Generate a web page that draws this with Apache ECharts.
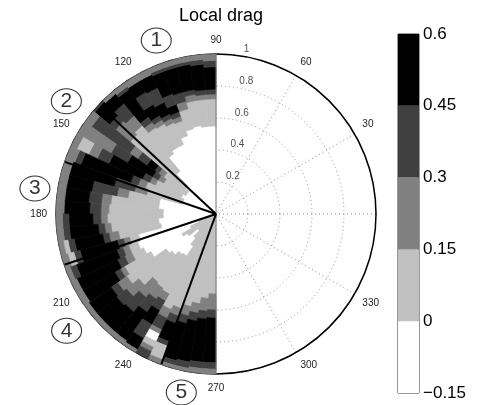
<!DOCTYPE html>
<html>
<head>
<meta charset="utf-8">
<script src="https://cdn.jsdelivr.net/npm/echarts@6/dist/echarts.min.js"></script>
<style>
html, body { margin: 0; padding: 0; background: #fff; }
#chart { width: 481px; height: 405px; }
</style>
</head>
<body>
<div id="chart"></div>
<script>
// angle bins on the left half (start of each 5 degree bin)
var angleBins = [90, 95, 100, 105, 110, 115, 120, 125, 130, 135, 140, 145,
    150, 155, 160, 165, 170, 175, 180, 185, 190, 195, 200, 205,
    210, 215, 220, 225, 230, 235, 240, 245, 250, 255, 260, 265];
var binWidth = 5;

// drag along each ray: [value, outer radius of the band], from the centre out
var dragBands = [
    [[-0.08, .55], [0.08, .72], [0.22, .75], [0.38, .78], [0.52, .92], [0.38, .96], [0.22, 1]],
    [[-0.08, .55], [0.08, .72], [0.22, .75], [0.38, .78], [0.52, .94], [0.38, .97], [0.22, 1]],
    [[-0.08, .56], [0.08, .72], [0.22, .76], [0.38, .79], [0.52, .95], [0.38, .97], [0.22, 1]],
    [[-0.08, .55], [0.08, .68], [0.22, .73], [0.38, .79], [0.52, .95], [0.38, .97], [0.22, 1]],
    [[-0.08, .52], [0.08, .62], [0.22, .65], [0.38, .68], [0.52, .73], [0.38, .80], [0.52, .95], [0.38, .97], [0.22, 1]],
    [[-0.08, .48], [0.08, .63], [0.22, .66], [0.38, .69], [0.52, .77], [0.38, .87], [0.52, .96], [0.22, 1]],
    [[-0.08, .48], [0.08, .65], [0.22, .68], [0.38, .71], [0.52, .79], [0.38, .88], [0.52, .96], [0.22, 1]],
    [[-0.08, .46], [0.08, .66], [0.22, .70], [0.38, .74], [0.52, .95], [0.38, .97], [0.22, 1]],
    [[-0.08, .35], [0.08, .72], [0.22, .80], [0.38, .90], [0.52, .98], [0.22, 1]],
    [[-0.08, .25], [0.08, .70], [0.22, .82], [0.38, .87], [0.52, .99], [0.38, 1]],
    [[-0.08, .22], [0.08, .40], [0.22, .44], [0.38, .47], [0.52, .53], [0.38, .60], [0.22, .66], [0.38, .95], [0.22, 1]],
    [[-0.08, .22], [0.08, .38], [0.22, .42], [0.38, .46], [0.52, .64], [0.38, .76], [0.22, 1]],
    [[-0.08, .24], [0.08, .42], [0.22, .46], [0.38, .51], [0.52, .74], [0.38, .82], [0.22, .88], [0.08, .96], [0.22, 1]],
    [[-0.08, .22], [0.08, .47], [0.22, .52], [0.38, .57], [0.52, .90], [0.38, .94], [0.22, 1]],
    [[-0.08, .22], [0.08, .45], [0.22, .53], [0.38, .66], [0.52, .95], [0.22, 1]],
    [[-0.08, .36], [0.08, .56], [0.22, .63], [0.38, .79], [0.52, .95], [0.22, 1]],
    [[-0.08, .36], [0.08, .66], [0.22, .72], [0.38, .80], [0.52, .95], [0.22, 1]],
    [[-0.08, .33], [0.08, .67], [0.22, .72], [0.38, .79], [0.52, .95], [0.22, 1]],
    [[-0.08, .33], [0.08, .68], [0.22, .72], [0.38, .77], [0.52, .92], [0.38, .96], [0.22, 1]],
    [[-0.08, .36], [0.08, .66], [0.22, .70], [0.38, .74], [0.52, .92], [0.38, .96], [0.22, 1]],
    [[-0.08, .35], [0.08, .62], [0.22, .68], [0.38, .72], [0.52, .90], [0.38, .94], [0.08, .97], [0.22, 1]],
    [[-0.08, .50], [0.08, .56], [0.22, .60], [0.38, .64], [0.52, .88], [0.38, .92], [0.08, .96], [0.22, 1]],
    [[0.08, .12], [-0.08, .52], [0.08, .58], [0.22, .62], [0.38, .66], [0.52, .93], [0.38, .97], [0.22, 1]],
    [[0.08, .18], [-0.08, .50], [0.08, .58], [0.22, .63], [0.38, .68], [0.52, .96], [0.22, 1]],
    [[0.08, .25], [-0.08, .47], [0.08, .66], [0.22, .69], [0.38, .73], [0.52, .96], [0.22, 1]],
    [[0.08, .22], [-0.08, .38], [0.08, .68], [0.22, .75], [0.38, .80], [0.52, .97], [0.22, 1]],
    [[0.08, .15], [-0.08, .36], [0.08, .63], [0.22, .73], [0.38, .81], [0.52, .97], [0.22, 1]],
    [[0.08, .20], [-0.08, .33], [0.08, .56], [0.22, .68], [0.38, .80], [0.52, .97], [0.22, 1]],
    [[0.08, .25], [-0.08, .32], [0.08, .57], [0.22, .65], [0.38, .75], [0.52, .97], [0.22, 1]],
    [[0.08, .58], [0.22, .63], [0.38, .70], [0.52, .80], [0.38, .90], [0.52, .98], [0.22, 1]],
    [[0.08, .66], [0.22, .72], [0.38, .80], [0.22, .83], [-0.08, .88], [0.08, .92], [0.22, .95], [0.38, 1]],
    [[0.08, .63], [0.22, .68], [0.38, .73], [0.52, .85], [0.38, .88], [0.08, .97], [0.22, 1]],
    [[0.08, .60], [0.22, .66], [0.38, .71], [0.52, .95], [0.38, .98], [0.22, 1]],
    [[0.08, .57], [0.22, .63], [0.38, .68], [0.52, .94], [0.38, .98], [0.22, 1]],
    [[0.08, .53], [0.22, .61], [0.38, .66], [0.52, .93], [0.38, .97], [0.22, 1]],
    [[0.08, .50], [0.22, .60], [0.38, .65], [0.52, .93], [0.38, .97], [0.22, 1]]
];

// contour levels and their grey shades
var levelEdges = [-0.15, 0, 0.15, 0.3, 0.45, 0.6];
var levelColors = ['#ffffff', '#c0c0c0', '#808080', '#404040', '#000000'];

// ring labels
var ringValues = [0.2, 0.4, 0.6, 0.8, 1];

// sector boundary lines: angle and length
var lineAngles = [137, 161, 198.5, 250];
var lineLengths = [0.955, 1, 1, 1];

// circled zone numbers
var zoneNames = ['1', '2', '3', '4', '5'];
var zoneRadius = [1.147, 1.171, 1.143, 1.185, 1.136];
var zoneAngle = [109, 143, 172, 218, 259];

var chart = echarts.init(document.getElementById('chart'));

// build sector cells
var cellData = [];
angleBins.forEach(function (a0, i) {
    var r0 = 0;
    dragBands[i].forEach(function (band) {
        cellData.push([a0, a0 + binWidth, r0, band[1], band[0]]);
        r0 = band[1];
    });
});

var pieces = [];
for (var k = 0; k < levelColors.length; k++) {
    pieces.push({ gte: levelEdges[k], lt: levelEdges[k + 1], color: levelColors[k] });
}

var series = [];

// contour fill
series.push({
    type: 'custom',
    coordinateSystem: 'polar',
    polarIndex: 0,
    data: cellData,
    encode: { angle: [0, 1], radius: [2, 3] },
    silent: true,
    z: 2,
    renderItem: function (params, api) {
        var a0 = api.value(0), a1 = api.value(1);
        var c = api.coord([0, a0]);
        var pIn = api.coord([api.value(2), a0]);
        var pOut = api.coord([api.value(3), a0]);
        var rIn = Math.sqrt(Math.pow(pIn[0] - c[0], 2) + Math.pow(pIn[1] - c[1], 2));
        var rOut = Math.sqrt(Math.pow(pOut[0] - c[0], 2) + Math.pow(pOut[1] - c[1], 2));
        var color = api.visual('color');
        return {
            type: 'sector',
            shape: {
                cx: c[0], cy: c[1], r0: rIn, r: rOut,
                startAngle: -a1 * Math.PI / 180,
                endAngle: -a0 * Math.PI / 180,
                clockwise: true
            },
            style: { fill: color, stroke: color, lineWidth: 0.7 }
        };
    }
});

// vertical edge of the filled half
series.push({
    type: 'line',
    coordinateSystem: 'polar',
    data: [[1, 90], [0, 90], [1, 270]],
    symbol: 'none',
    silent: true,
    lineStyle: { color: '#777', width: 1 },
    z: 3
});

// sector lines
lineAngles.forEach(function (a, i) {
    series.push({
        type: 'line',
        coordinateSystem: 'polar',
        data: [[0, a], [lineLengths[i], a]],
        symbol: 'none',
        silent: true,
        lineStyle: { color: '#000', width: 2 },
        z: 4
    });
});

// ring labels
series.push({
    type: 'scatter',
    coordinateSystem: 'polar',
    data: ringValues.map(function (v) { return [v, 82]; }),
    symbolSize: 1,
    clip: false,
    itemStyle: { color: 'rgba(0,0,0,0)' },
    silent: true,
    label: {
        show: true,
        position: 'right',
        distance: 5,
        offset: [0, -6],
        fontSize: 10,
        color: '#222',
        formatter: function (p) { return p.value[0]; }
    },
    z: 5
});

// circled zone numbers
series.push({
    type: 'scatter',
    coordinateSystem: 'polar',
    data: zoneNames.map(function (n, i) { return [zoneRadius[i], zoneAngle[i], n]; }),
    symbol: 'path://M0,50A60,50 0 1,1 120,50A60,50 0 1,1 0,50Z',
    symbolSize: [30, 25],
    clip: false,
    itemStyle: { color: 'rgba(0,0,0,0)', borderColor: '#000', borderWidth: 1 },
    silent: true,
    label: {
        show: true,
        position: 'inside',
        fontSize: 21,
        color: '#000',
        formatter: function (p) { return p.value[2]; }
    },
    z: 5
});

// colour bar
var barValues = [];
for (var j = 0; j < levelColors.length; j++) {
    barValues.push(j === 0 ? levelEdges[0] : levelEdges[j + 1] - levelEdges[j]);
}
barValues.forEach(function (v, j) {
    series.push({
        type: 'bar',
        xAxisIndex: 0,
        yAxisIndex: 0,
        stack: 'bar',
        data: [v],
        barWidth: '100%',
        silent: true,
        itemStyle: { color: levelColors[j] },
        z: 2
    });
});

var option = {
    animation: false,
    textStyle: { fontFamily: 'Liberation Sans, Arial, sans-serif' },
    title: {
        text: 'Local drag',
        left: 216,
        top: 2,
        textAlign: 'center',
        textStyle: { fontSize: 18, fontWeight: 'normal', color: '#000' }
    },
    polar: { center: [216, 214], radius: 160 },
    angleAxis: {
        type: 'value',
        min: 0,
        max: 360,
        interval: 30,
        startAngle: 0,
        clockwise: false,
        axisLine: { show: true, lineStyle: { color: '#000', width: 1.5 } },
        axisTick: { show: false },
        axisLabel: {
            margin: 9,
            fontSize: 10,
            color: '#222',
            formatter: function (v) { return v === 0 ? '' : v; }
        },
        splitLine: { show: true, lineStyle: { color: '#8a8a8a', width: 1, type: [1, 3] } }
    },
    radiusAxis: {
        type: 'value',
        min: 0,
        max: 1,
        interval: 0.2,
        axisLine: { show: false },
        axisTick: { show: false },
        axisLabel: { show: false },
        splitLine: { show: true, lineStyle: { color: '#8a8a8a', width: 1, type: [1, 3] } }
    },
    visualMap: {
        type: 'piecewise',
        show: false,
        seriesIndex: 0,
        dimension: 4,
        pieces: pieces
    },
    grid: {
        left: 398,
        top: 34,
        width: 21,
        height: 359,
        show: true,
        borderColor: '#333',
        borderWidth: 1
    },
    xAxis: {
        type: 'category',
        data: ['c'],
        show: false
    },
    yAxis: {
        type: 'value',
        position: 'right',
        min: levelEdges[0],
        max: levelEdges[levelEdges.length - 1],
        interval: 0.15,
        axisLine: { show: false },
        axisTick: { show: false },
        splitLine: { show: false },
        axisLabel: {
            margin: 4,
            fontSize: 17,
            color: '#000',
            formatter: function (v) {
                var s = String(Math.round(v * 100) / 100);
                return s.replace('-', '\u2212');
            }
        }
    },
    series: series
};

chart.setOption(option);
</script>
</body>
</html>
